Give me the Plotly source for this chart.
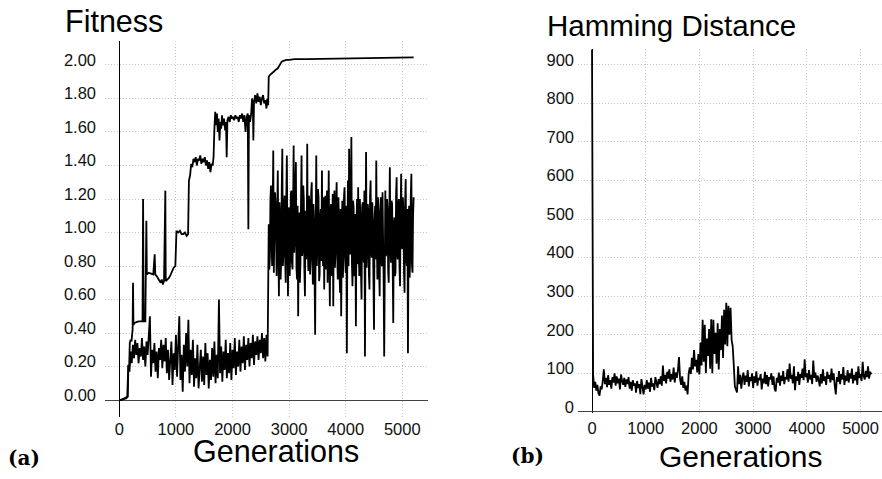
import numpy as np
import plotly.graph_objects as go

# ---------------- data ----------------
# (a) mean fitness: every 20 generations up to 2620, every 10 generations after the jump
gen_mean = np.concatenate([np.arange(0, 2621, 20), np.arange(2640, 5201, 10)])
mean_fitness_early = [
    0.00, 0.00, 0.00, 0.005, 0.01, 0.01, 0.015, 0.02, 0.21, 0.17,
    0.29, 0.22, 0.33, 0.25, 0.36, 0.27, 0.34, 0.22, 0.31, 0.26,
    0.37, 0.24, 0.32, 0.20, 0.35, 0.27, 0.38, 0.50, 0.14, 0.30,
    0.22, 0.34, 0.17, 0.29, 0.13, 0.31, 0.24, 0.36, 0.19, 0.33,
    0.23, 0.37, 0.16, 0.30, 0.12, 0.26, 0.35, 0.09, 0.28, 0.18,
    0.39, 0.14, 0.31, 0.50, 0.12, 0.27, 0.05, 0.33, 0.17, 0.40,
    0.20, 0.48, 0.10, 0.30, 0.15, 0.36, 0.08, 0.25, 0.13, 0.33,
    0.07, 0.22, 0.30, 0.11, 0.26, 0.09, 0.34, 0.15, 0.28, 0.07,
    0.24, 0.12, 0.31, 0.14, 0.35, 0.10, 0.27, 0.13, 0.60, 0.16,
    0.32, 0.11, 0.29, 0.18, 0.36, 0.13, 0.28, 0.16, 0.34, 0.12,
    0.30, 0.19, 0.37, 0.15, 0.29, 0.20, 0.36, 0.17, 0.32, 0.22,
    0.38, 0.18, 0.33, 0.24, 0.37, 0.20, 0.34, 0.25, 0.39, 0.21,
    0.35, 0.27, 0.38, 0.24, 0.36, 0.28, 0.40, 0.25, 0.37, 0.23,
    0.39, 0.26,
]
mean_fitness_late = [
    1.05, 0.78, 0.85, 1.20, 1.28, 0.95, 0.80, 1.15, 1.49, 0.76, 0.92, 1.24, 1.18, 0.82, 0.74, 1.12,
    1.37, 0.90, 0.62, 1.18, 1.10, 0.72, 0.83, 1.26, 1.50, 0.80, 0.88, 1.14, 1.22, 0.85, 0.70, 1.20, 1.46, 0.96, 0.62, 1.08,
    1.15, 0.74, 0.86, 1.23, 1.25, 0.82, 0.78, 1.10, 1.52, 0.88, 0.95, 1.27, 1.42, 0.79, 0.72, 1.16, 0.50, 0.98, 1.12, 0.70,
    0.81, 1.19, 1.46, 0.86, 0.90, 1.28, 1.20, 0.77, 0.62, 1.13, 1.05, 0.84, 1.53, 0.93, 0.77, 1.22, 1.18, 0.75, 0.84, 1.24,
    1.30, 0.87, 0.69, 1.17, 1.08, 0.73, 0.39, 1.02, 1.46, 0.80, 0.93, 1.26, 1.21, 0.71, 0.75, 1.09, 1.14, 0.83, 1.37, 0.92,
    0.80, 1.21, 0.66, 1.04, 1.22, 0.78, 0.88, 1.25, 0.70, 0.99, 1.37, 0.85, 0.56, 1.12, 1.17, 0.74, 0.83, 1.23, 0.56, 1.06,
    1.25, 0.79, 0.90, 1.18, 1.30, 0.86, 0.72, 1.21, 1.10, 0.77, 0.64, 1.14, 0.50, 0.95, 1.19, 0.73, 0.85, 1.22, 1.27, 0.88,
    0.76, 1.16, 0.28, 0.97, 1.31, 0.80, 1.50, 0.91, 0.87, 1.24, 1.57, 0.82, 0.68, 1.19, 1.15, 0.74, 0.79, 1.11, 0.44, 1.03,
    1.20, 0.81, 1.27, 0.90, 0.74, 1.20, 1.08, 0.76, 0.60, 1.15, 1.18, 0.87, 0.82, 1.25, 0.26, 1.00, 1.48, 0.79, 0.90, 1.17,
    1.12, 0.75, 0.66, 1.22, 1.31, 0.89, 0.85, 1.18, 1.05, 0.72, 0.42, 1.07, 1.16, 0.84, 1.43, 0.94, 0.72, 1.21, 1.10, 0.78,
    0.62, 1.13, 1.21, 0.83, 0.80, 1.24, 1.07, 0.71, 0.26, 0.98, 1.25, 0.86, 0.88, 1.20, 1.14, 0.77, 0.70, 1.10, 1.39, 0.92,
    0.82, 1.19, 1.17, 0.80, 0.46, 1.05, 1.09, 0.74, 0.76, 1.23, 1.33, 0.87, 0.84, 1.16, 1.20, 0.79, 0.68, 1.12, 1.35, 0.93,
    0.90, 1.21, 1.12, 0.76, 0.64, 1.18, 1.32, 0.85, 0.80, 1.14, 0.28, 0.96, 1.16, 0.73, 0.86, 1.22, 1.35, 0.81, 0.76, 1.10,
    1.21,
]
mean_fitness = mean_fitness_early + mean_fitness_late

# (a) best fitness
gen_best = [
    0, 60, 120, 150, 160, 175, 185, 200, 215, 235, 242, 250, 270, 300, 340,
    380, 410, 420, 430, 460, 470, 478, 486, 520, 560, 600, 625, 635, 660, 700,
    730, 750, 770, 790, 813, 820, 850, 880, 910, 940, 960, 990, 1010, 1040,
    1070, 1100, 1130, 1160, 1190, 1215, 1230, 1250, 1270, 1290, 1310, 1330,
    1350, 1370, 1390, 1410, 1430, 1450, 1470, 1490, 1510, 1530, 1550, 1570,
    1590, 1610, 1630, 1650, 1665, 1680, 1695, 1710, 1725, 1740, 1755, 1770,
    1785, 1800, 1815, 1830, 1850, 1870, 1885, 1897, 1910, 1930, 1950, 1970,
    1990, 2010, 2030, 2050, 2070, 2090, 2110, 2130, 2150, 2170, 2190, 2210,
    2230, 2250, 2270, 2280, 2290, 2310, 2330, 2345, 2360, 2368, 2380, 2400,
    2420, 2440, 2460, 2480, 2500, 2520, 2540, 2560, 2580, 2600, 2615, 2630,
    2640, 2660, 2690, 2720, 2760, 2800, 2840, 2870, 2900, 2950, 3000, 3100,
    3300, 3500, 3800, 4100, 4400, 4700, 5000, 5200,
]
best_fitness = [
    0.00, 0.005, 0.01, 0.02, 0.20, 0.21, 0.34, 0.36, 0.35, 0.42, 0.70, 0.45, 0.46, 0.465, 0.47,
    0.47, 0.47, 1.20, 0.47, 0.47, 0.74, 1.07, 0.75, 0.76, 0.755, 0.75, 0.87, 0.75, 0.74, 0.72,
    0.70, 0.72, 0.69, 0.71, 1.25, 0.71, 0.72, 0.73, 0.75, 0.77, 0.79, 0.80, 1.01, 1.00,
    1.01, 0.99, 0.99, 1.00, 0.98, 0.99, 1.31, 1.34, 1.41, 1.39, 1.44, 1.42,
    1.45, 1.40, 1.44, 1.43, 1.46, 1.41, 1.44, 1.42, 1.45, 1.40, 1.43, 1.38,
    1.42, 1.36, 1.41, 1.40, 1.45, 1.62, 1.72, 1.64, 1.71, 1.60, 1.68, 1.55,
    1.66, 1.62, 1.70, 1.64, 1.68, 1.61, 1.66, 1.45, 1.67, 1.69, 1.66, 1.70,
    1.68, 1.69, 1.67, 1.70, 1.68, 1.69, 1.66, 1.70, 1.68, 1.71, 1.66, 1.70,
    1.60, 1.69, 1.71, 1.02, 1.70, 1.66, 1.71, 1.80, 1.76, 1.55, 1.78, 1.82,
    1.77, 1.83, 1.78, 1.81, 1.76, 1.80, 1.82, 1.77, 1.79, 1.74, 1.80, 1.76,
    1.93, 1.94, 1.95, 1.96, 1.97, 1.98, 2.00, 2.02, 2.025, 2.03, 2.03, 2.035,
    2.035, 2.036, 2.038, 2.040, 2.042, 2.043, 2.045, 2.045,
]

# (b) Hamming distance
gen_ham = [0, 3, 5, 7, 9, 12, 15, 18] + list(range(20, 5201, 20))
hamming = [
    940, 575, 370, 570, 365, 250, 130, 105,
    97, 62, 78, 55, 70, 48, 42, 66, 58, 80,
    110, 72, 88, 64, 95, 70, 82, 60, 90, 76,
    100, 68, 92, 74, 86, 58, 97, 80, 70, 88,
    65, 84, 72, 90, 60, 78, 55, 82, 68, 74,
    50, 80, 62, 72, 46, 85, 64, 45, 70, 58,
    82, 60, 76, 52, 88, 66, 74, 56, 90, 70,
    62, 85, 72, 92, 68, 120, 80, 96, 74, 104,
    86, 110, 78, 98, 84, 115, 76, 102, 88, 108,
    142, 84, 70, 92, 62, 78, 55, 68, 45, 100,
    115, 98, 140, 110, 160, 118, 135, 102, 150, 97,
    180, 120, 239, 130, 226, 100, 190, 145, 215, 112,
    240, 100, 239, 150, 205, 125, 230, 110, 215, 160,
    250, 140, 265, 175, 283, 170, 275, 200, 270, 185,
    170, 120, 66, 58, 50, 118, 72, 96, 60, 88,
    102, 70, 94, 78, 108, 66, 90, 80, 100, 62,
    92, 76, 105, 68, 88, 82, 98, 58, 86, 74,
    104, 72, 95, 66, 90, 84, 100, 70, 92, 60,
    53, 88, 76, 102, 68, 94, 80, 106, 72, 90,
    84, 110, 78, 125, 86, 96, 74, 118, 56, 92,
    80, 104, 70, 98, 88, 112, 82, 136, 90, 100,
    76, 108, 84, 96, 72, 133, 88, 102, 78, 94,
    84, 66, 98, 74, 110, 80, 92, 70, 104, 86,
    96, 76, 112, 82, 100, 68, 45, 90, 78, 106,
    72, 98, 84, 116, 70, 94, 80, 108, 76, 100,
    86, 112, 74, 96, 82, 104, 70, 118, 88, 98,
    80, 130, 92, 84, 106, 90, 118, 86, 104, 97,
]

x_ticks = [0, 1000, 2000, 3000, 4000, 5000]
fit_ticks = [0.0, 0.2, 0.4, 0.6, 0.8, 1.0, 1.2, 1.4, 1.6, 1.8, 2.0]
ham_ticks = [0, 100, 200, 300, 400, 500, 600, 700, 800, 900]

assert len(mean_fitness) == len(gen_mean)
assert len(best_fitness) == len(gen_best)
assert len(hamming) == len(gen_ham)

# ---------------- figure ----------------
W, H = 882, 479
SANS = "Liberation Sans, Arial, sans-serif"
SERIF = "DejaVu Serif, serif"
GRID = "#c8c8c8"
TICKFONT = dict(family=SANS, size=16.5, color="#111")

fig = go.Figure()
fig.add_trace(go.Scatter(x=gen_mean, y=mean_fitness, mode="lines",
                         line=dict(color="#000", width=1.8), xaxis="x", yaxis="y"))
fig.add_trace(go.Scatter(x=gen_best, y=best_fitness, mode="lines",
                         line=dict(color="#000", width=1.8), xaxis="x", yaxis="y"))
fig.add_trace(go.Scatter(x=gen_ham, y=hamming, mode="lines",
                         line=dict(color="#000", width=1.8), xaxis="x2", yaxis="y2"))

def xax(domain, rng, standoff):
    return dict(domain=domain, range=rng, tickvals=x_ticks, showgrid=True,
                gridcolor=GRID, griddash="1px,2px", gridwidth=1,
                zeroline=True, zerolinecolor="#000", zerolinewidth=1,
                showline=False, ticks="", tickfont=TICKFONT,
                ticklabelstandoff=standoff, automargin=False, fixedrange=True)

def yax(domain, rng, ticks, fmt, standoff):
    return dict(domain=domain, range=rng, tickvals=ticks, tickformat=fmt,
                showgrid=True, gridcolor=GRID, griddash="1px,2px", gridwidth=1,
                zeroline=True, zerolinecolor="#444", zerolinewidth=1.3,
                showline=False, ticks="", tickfont=TICKFONT,
                ticklabelshift=-5, ticklabelstandoff=standoff,
                automargin=False, fixedrange=True)

fig.update_layout(
    width=W, height=H,
    margin=dict(l=0, r=0, t=0, b=0),
    paper_bgcolor="white", plot_bgcolor="white",
    showlegend=False,
    xaxis=dict(xax([105 / W, 428 / W], [-253, 5454], 0), anchor="y"),
    yaxis=dict(yax([1 - 417 / H, 1 - 41 / H], [-0.101, 2.143], fit_ticks, ".2f", 8), anchor="x"),
    xaxis2=dict(xax([578 / W, 1.0], [-261, 5400], 3), anchor="y2"),
    yaxis2=dict(yax([1 - 413 / H, 1 - 49 / H], [-3, 941], ham_ticks, "d", 3), anchor="x2"),
)

def label(text, xpx, ypx, size, xanchor, family=SANS, bold=False):
    fig.add_annotation(text=("<b>%s</b>" % text) if bold else text,
                       x=xpx / W, y=1 - ypx / H, xref="paper", yref="paper",
                       xanchor=xanchor, yanchor="middle", showarrow=False,
                       font=dict(family=family, size=size, color="#000"))

label("Fitness", 63, 21, 30.5, "left")
label("Hamming Distance", 545, 25, 29.5, "left")
label("Generations", 275.5, 451, 30.5, "center")
label("Generations", 740, 456.5, 30, "center")
label("(a)", 6, 458, 20, "left", family=SERIF, bold=True)
label("(b)", 509, 456, 20, "left", family=SERIF, bold=True)

fig.write_html(
    "out.html",
    config={"displayModeBar": False},
    post_script="document.body.style.margin='0';document.body.style.padding='0';"
                "document.body.style.overflow='hidden';",
)
